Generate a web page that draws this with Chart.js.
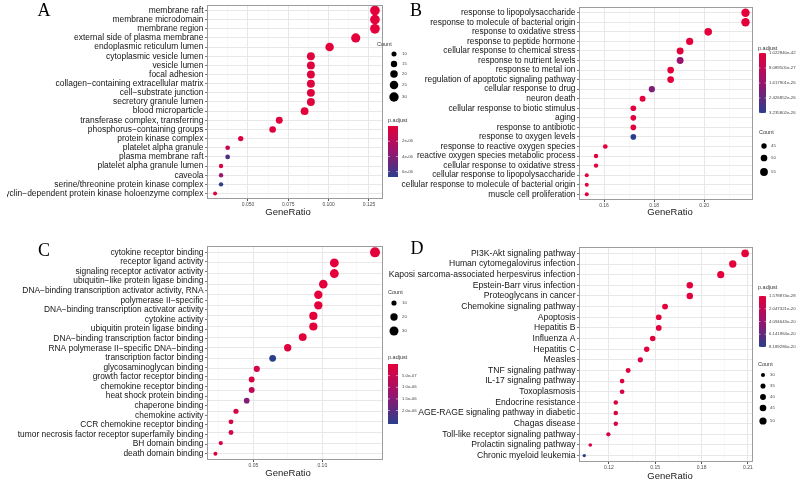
<!DOCTYPE html>
<html>
<head>
<meta charset="utf-8">
<script src="https://cdn.jsdelivr.net/npm/chart.js@4"></script>
<style>
  body { margin: 0; background: #fff; }
  .layer { position: absolute; left: 0; top: 0; }
</style>
</head>
<body>
<canvas id="panelA" class="layer" width="800" height="485"></canvas>
<canvas id="panelB" class="layer" width="800" height="485"></canvas>
<canvas id="panelC" class="layer" width="800" height="485"></canvas>
<canvas id="panelD" class="layer" width="800" height="485"></canvas>
<script>
// ---------- data ----------
// A: GO cellular component
const termsA = ['membrane raft', 'membrane microdomain', 'membrane region', 'external side of plasma membrane',
  'endoplasmic reticulum lumen', 'cytoplasmic vesicle lumen', 'vesicle lumen', 'focal adhesion',
  'collagen\u2212containing extracellular matrix', 'cell\u2212substrate junction', 'secretory granule lumen',
  'blood microparticle', 'transferase complex, transferring', 'phosphorus\u2212containing groups',
  'protein kinase complex', 'platelet alpha granule', 'plasma membrane raft', 'platelet alpha granule lumen',
  'caveola', 'serine/threonine protein kinase complex', 'cyclin\u2212dependent protein kinase holoenzyme complex'];
const ratioA = [0.1287, 0.1287, 0.1287, 0.1168, 0.1006, 0.0890, 0.0890, 0.0890, 0.0890, 0.0890, 0.0890,
  0.0851, 0.0694, 0.0653, 0.0455, 0.0374, 0.0374, 0.0333, 0.0333, 0.0333, 0.0296];
const countA = [32, 32, 32, 29, 25, 22, 22, 22, 22, 22, 22, 21, 17, 16, 11, 9, 9, 8, 8, 8, 7];
const padjA = [3.1e-10, 3.1e-10, 4.0e-10, 8.2e-10, 1.9e-8, 2.6e-7, 2.6e-7, 2.6e-7, 2.6e-7, 2.6e-7, 2.6e-7,
  1.0e-7, 2.5e-7, 2.5e-7, 3.0e-7, 1.4e-6, 5.6e-6, 5.0e-7, 3.0e-6, 6.7e-6, 3.5e-7];
const xMajorA = [0.050, 0.075, 0.100, 0.125];
const xMajorLabelsA = ['0.050', '0.075', '0.100', '0.125'];
const xMinorA = [0.0375, 0.0625, 0.0875, 0.1125];
const countBreaksA = [10, 15, 20, 25, 30];
const padjBreaksA = [2e-6, 4e-6, 6e-6];
const padjLabelsA = ['2e-06', '4e-06', '6e-06'];

// B: GO biological process
const termsB = ['response to lipopolysaccharide', 'response to molecule of bacterial origin',
  'response to oxidative stress', 'response to peptide hormone', 'cellular response to chemical stress',
  'response to nutrient levels', 'response to metal ion', 'regulation of apoptotic signaling pathway',
  'cellular response to drug', 'neuron death', 'cellular response to biotic stimulus', 'aging',
  'response to antibiotic', 'response to oxygen levels', 'response to reactive oxygen species',
  'reactive oxygen species metabolic process', 'cellular response to oxidative stress',
  'cellular response to lipopolysaccharide', 'cellular response to molecule of bacterial origin',
  'muscle cell proliferation'];
const ratioB = [0.2165, 0.2165, 0.2016, 0.1942, 0.1904, 0.1904, 0.1866, 0.1866, 0.1791, 0.1754,
  0.1717, 0.1717, 0.1717, 0.1717, 0.1605, 0.1568, 0.1568, 0.1531, 0.1531, 0.1531];
const countB = [58, 58, 54, 52, 51, 51, 50, 50, 48, 47, 46, 46, 46, 46, 43, 42, 42, 41, 41, 41];
const padjB = [1.022840e-42, 1.5e-42, 2.0e-38, 4.0e-33, 2.3e-31, 1.6e-26, 6.0e-32, 8.0e-31, 2.0e-26, 3.0e-28,
  5.0e-29, 1.0e-28, 2.0e-28, 3.235802e-26, 4.0e-29, 3.0e-28, 5.0e-28, 1.0e-29, 1.2e-29, 9.0e-29];
const xMajorB = [0.16, 0.18, 0.20];
const xMajorLabelsB = ['0.16', '0.18', '0.20'];
const xMinorB = [0.17, 0.19, 0.21];
const countBreaksB = [45, 50, 55];
const padjBreaksB = [1.022840e-42, 8.089505e-27, 1.617901e-26, 2.426852e-26, 3.235802e-26];
const padjLabelsB = ['1.022840e-42', '8.089505e-27', '1.617901e-26', '2.426852e-26', '3.235802e-26'];

// C: GO molecular function (22 printed label lines for 20 terms)
const labelsC = ['cytokine receptor binding', 'receptor ligand activity', 'signaling receptor activator activity',
  'ubiquitin\u2212like protein ligase binding', 'DNA\u2212binding transcription activator activity, RNA',
  'polymerase II\u2212specific', 'DNA\u2212binding transcription activator activity', 'cytokine activity',
  'ubiquitin protein ligase binding', 'DNA\u2212binding transcription factor binding',
  'RNA polymerase II\u2212specific DNA\u2212binding', 'transcription factor binding', 'glycosaminoglycan binding',
  'growth factor receptor binding', 'chemokine receptor binding', 'heat shock protein binding',
  'chaperone binding', 'chemokine activity', 'CCR chemokine receptor binding',
  'tumor necrosis factor receptor superfamily binding', 'BH domain binding', 'death domain binding'];
const ratioC = [0.1382, 0.1087, 0.1087, 0.1007, 0.0971, 0.0971, 0.0935, 0.0935, 0.0858, 0.0749,
  0.0640, 0.0525, 0.0488, 0.0488, 0.0452, 0.0374, 0.0338, 0.0338, 0.0264, 0.0225];
const countC = [37, 29, 29, 27, 26, 26, 25, 25, 23, 20, 17, 14, 13, 13, 12, 10, 9, 9, 7, 6];
const padjC = [4e-12, 2e-10, 2e-10, 6e-10, 1e-9, 1e-9, 3e-9, 2e-9, 2e-8, 5e-8,
  2.58e-6, 2.6e-7, 1.5e-7, 6.5e-7, 1.55e-6, 2.0e-7, 2.5e-7, 3.0e-7, 2.0e-7, 1.5e-7];
const xMajorC = [0.05, 0.10];
const xMajorLabelsC = ['0.05', '0.10'];
const xMinorC = [0.025, 0.075, 0.125];
const countBreaksC = [10, 20, 30];
const padjBreaksC = [5e-7, 1e-6, 1.5e-6, 2e-6];
const padjLabelsC = ['5.0e-07', '1.0e-06', '1.5e-06', '2.0e-06'];

// D: KEGG pathways
const termsD = ['PI3K-Akt signaling pathway', 'Human cytomegalovirus infection',
  'Kaposi sarcoma-associated herpesvirus infection', 'Epstein-Barr virus infection', 'Proteoglycans in cancer',
  'Chemokine signaling pathway', 'Apoptosis', 'Hepatitis B', 'Influenza A', 'Hepatitis C', 'Measles',
  'TNF signaling pathway', 'IL-17 signaling pathway', 'Toxoplasmosis', 'Endocrine resistance',
  'AGE-RAGE signaling pathway in diabetic', 'Chagas disease', 'Toll-like receptor signaling pathway',
  'Prolactin signaling pathway', 'Chronic myeloid leukemia'];
const ratioD = [0.2082, 0.2002, 0.1924, 0.1724, 0.1724, 0.1564, 0.1523, 0.1523, 0.1484, 0.1445,
  0.1404, 0.1325, 0.1286, 0.1286, 0.1245, 0.1245, 0.1245, 0.1197, 0.1080, 0.1041];
const countD = [53, 51, 49, 44, 44, 40, 39, 39, 38, 37, 36, 34, 33, 33, 32, 32, 32, 31, 28, 27];
const padjD = [1.578874e-28, 3.2e-26, 5.5e-26, 1.1e-24, 2.4e-24, 6.1e-23, 3.3e-22, 3.3e-22, 8.2e-22, 1.6e-21,
  3.1e-21, 2.5e-21, 4.8e-21, 4.9e-21, 5.2e-21, 5.3e-21, 5.4e-21, 6.3e-21, 7.6e-21, 8.189286e-20];
const xMajorD = [0.12, 0.15, 0.18, 0.21];
const xMajorLabelsD = ['0.12', '0.15', '0.18', '0.21'];
const xMinorD = [0.105, 0.135, 0.165, 0.195];
const countBreaksD = [30, 35, 40, 45, 50];
const padjBreaksD = [1.578874e-28, 2.047321e-20, 4.094643e-20, 6.141964e-20, 8.189286e-20];
const padjLabelsD = ['1.578874e-28', '2.047321e-20', '4.094643e-20', '6.141964e-20', '8.189286e-20'];

// ---------- helpers ----------
const FONT = '"Liberation Sans", Arial, sans-serif';
Chart.defaults.font.family = FONT;

const lowCol = [228, 0, 58], midCol = [152, 20, 110], highCol = [42, 62, 140];
function colorAt(t) {
  t = Math.max(0, Math.min(1, t));
  const a = t < 0.5 ? lowCol : midCol, b = t < 0.5 ? midCol : highCol;
  const u = t < 0.5 ? t * 2 : (t - 0.5) * 2;
  const c = a.map((v, i) => Math.round(v + (b[i] - v) * u));
  return `rgb(${c[0]}, ${c[1]}, ${c[2]})`;
}

function radiusFor(c, counts, rr) {
  const lo = Math.min(...counts), hi = Math.max(...counts);
  const t = (c - lo) / (hi - lo);
  return Math.sqrt(rr[0] * rr[0] + t * (rr[1] * rr[1] - rr[0] * rr[0]));
}

function isMajor(v, majors) {
  return majors.some(m => Math.abs(m - v) < 1e-9);
}

function drawDecor(chart, p) {
  const ctx = chart.ctx, a = chart.chartArea, L = p.layout;
  ctx.save();
  // panel border
  ctx.strokeStyle = '#9c9c9c';
  ctx.lineWidth = 1;
  ctx.strokeRect(a.left + 0.5, a.top + 0.5, a.right - a.left - 1, a.bottom - a.top - 1);

  // axis title
  ctx.fillStyle = '#1a1a1a';
  ctx.font = `9.5px ${FONT}`;
  ctx.textAlign = 'center';
  ctx.textBaseline = 'middle';
  ctx.fillText('GeneRatio', L.xTitle[0], L.xTitle[1]);

  // panel letter
  ctx.fillStyle = '#000';
  ctx.font = '18px "Liberation Serif", "Times New Roman", serif';
  ctx.fillText(L.letter[0], L.letter[1], L.letter[2]);

  // size legend
  const cl = L.countLegend;
  ctx.textAlign = 'left';
  ctx.fillStyle = '#333';
  ctx.font = `5.5px ${FONT}`;
  ctx.fillText('Count', cl.title[0], cl.title[1]);
  p.countBreaks.forEach((c, i) => {
    const r = radiusFor(c, p.count, L.radius);
    ctx.beginPath();
    ctx.arc(cl.x, cl.ys[i], r, 0, Math.PI * 2);
    ctx.fillStyle = '#000';
    ctx.fill();
    ctx.fillStyle = '#444';
    ctx.font = `4.3px ${FONT}`;
    ctx.fillText(String(c), cl.labelX, cl.ys[i]);
  });

  // colour bar legend
  const pl = L.padjLegend;
  const [bx, by, bw, bh] = pl.bar;
  const lo = Math.min(...p.padj), hi = Math.max(...p.padj);
  ctx.fillStyle = '#333';
  ctx.font = `5.5px ${FONT}`;
  ctx.fillText('p.adjust', pl.title[0], pl.title[1]);
  const g = ctx.createLinearGradient(0, by, 0, by + bh);
  for (let s = 0; s <= 20; s++) g.addColorStop(s / 20, colorAt(s / 20));
  ctx.fillStyle = g;
  ctx.fillRect(bx, by, bw, bh);
  p.padjBreaks.forEach((v, i) => {
    const y = by + (v - lo) / (hi - lo) * bh;
    ctx.strokeStyle = 'rgba(255,255,255,0.9)';
    ctx.lineWidth = 0.6;
    ctx.beginPath();
    ctx.moveTo(bx, y); ctx.lineTo(bx + bw * 0.2, y);
    ctx.moveTo(bx + bw * 0.8, y); ctx.lineTo(bx + bw, y);
    ctx.stroke();
    ctx.fillStyle = '#444';
    ctx.font = `4.3px ${FONT}`;
    ctx.fillText(p.padjLabels[i], pl.labelX, y);
  });
  ctx.restore();
}

function drawPanel(id, p) {
  const L = p.layout;
  const [bl, bt, br, bb] = L.box;
  const n = p.ratio.length, nl = p.labels.length;
  const k = (nl - 1) / (n - 1);
  const Y_W = 200, X_H = 9;
  const lo = Math.min(...p.padj), hi = Math.max(...p.padj);
  const allX = () => [...p.xMajor, ...p.xMinor].filter(v => v > L.xRange[0] && v < L.xRange[1])
    .sort((a, b) => a - b).map(v => ({ value: v }));

  new Chart(document.getElementById(id), {
    type: 'scatter',
    data: {
      datasets: [{
        data: p.ratio.map((x, i) => ({ x: x, y: i })),
        pointRadius: c => radiusFor(p.count[c.dataIndex], p.count, L.radius),
        pointBackgroundColor: c => colorAt((p.padj[c.dataIndex] - lo) / (hi - lo)),
        pointBorderWidth: 0,
        clip: false
      }]
    },
    options: {
      responsive: false,
      animation: false,
      events: [],
      layout: { padding: { left: bl - Y_W, top: bt, right: 800 - br, bottom: 485 - bb - X_H } },
      plugins: { legend: { display: false }, tooltip: { enabled: false } },
      scales: {
        x: {
          type: 'linear', min: L.xRange[0], max: L.xRange[1], bounds: 'data',
          afterBuildTicks: s => { s.ticks = allX(); },
          afterFit: s => { s.height = X_H; s.paddingLeft = 0; s.paddingRight = 0; },
          border: { display: false },
          grid: {
            color: c => isMajor(c.tick.value, p.xMajor) ? '#e8e8e8' : '#f4f4f4',
            lineWidth: c => isMajor(c.tick.value, p.xMajor) ? 1 : 0.6,
            tickColor: c => isMajor(c.tick.value, p.xMajor) ? '#555' : 'rgba(0,0,0,0)',
            tickLength: 2
          },
          ticks: {
            autoSkip: false, maxRotation: 0, padding: 1, color: '#4d4d4d',
            font: { size: 5, lineHeight: 1 },
            callback: v => {
              const i = p.xMajor.findIndex(m => Math.abs(m - v) < 1e-9);
              return i >= 0 ? p.xMajorLabels[i] : '';
            }
          }
        },
        y: {
          type: 'linear', reverse: true, min: -0.6, max: n - 1 + 0.6, bounds: 'data',
          afterBuildTicks: s => { s.ticks = p.ratio.map((_, i) => ({ value: i })); },
          afterFit: s => { s.width = 0; s.paddingTop = 0; s.paddingBottom = 0; },
          border: { display: false },
          grid: { color: '#e8e8e8', lineWidth: 1, drawTicks: false },
          ticks: { display: false }
        },
        yl: {
          type: 'linear', position: 'left', reverse: true,
          min: -0.6 * k, max: (n - 1 + 0.6) * k, bounds: 'data',
          afterBuildTicks: s => { s.ticks = p.labels.map((_, i) => ({ value: i })); },
          afterFit: s => { s.width = Y_W; s.paddingTop = 0; s.paddingBottom = 0; },
          border: { display: false },
          grid: { drawOnChartArea: false, color: '#555', lineWidth: 0.8, tickLength: 2 },
          ticks: {
            autoSkip: false, padding: 1.5, color: '#151515',
            font: { size: L.labelFont, lineHeight: 1 },
            callback: v => p.labels[Math.round(v)]
          }
        }
      }
    },
    plugins: [{ id: 'decor', afterDraw: chart => drawDecor(chart, p) }]
  });
}

// ---------- panels ----------
drawPanel('panelA', {
  labels: termsA, ratio: ratioA, count: countA, padj: padjA,
  xMajor: xMajorA, xMajorLabels: xMajorLabelsA, xMinor: xMinorA,
  countBreaks: countBreaksA, padjBreaks: padjBreaksA, padjLabels: padjLabelsA,
  layout: {
    box: [207, 5, 383, 199], xRange: [0.0246, 0.1337], labelFont: 8.45, radius: [2, 4.85],
    xTitle: [288, 212], letter: ['A', 44, 11],
    countLegend: { title: [377, 44], x: 394, ys: [54, 64, 74, 85, 97], labelX: 402 },
    padjLegend: { title: [388, 120], bar: [388, 126, 10, 51], labelX: 402 }
  }
});

drawPanel('panelB', {
  labels: termsB, ratio: ratioB, count: countB, padj: padjB,
  xMajor: xMajorB, xMajorLabels: xMajorLabelsB, xMinor: xMinorB,
  countBreaks: countBreaksB, padjBreaks: padjBreaksB, padjLabels: padjLabelsB,
  layout: {
    box: [579, 7, 753, 200], xRange: [0.150, 0.2195], labelFont: 8.35, radius: [2, 4.2],
    xTitle: [670, 212], letter: ['B', 416, 11],
    countLegend: { title: [759, 132], x: 764, ys: [146, 158, 172], labelX: 771 },
    padjLegend: { title: [758, 48], bar: [759, 53, 7, 60], labelX: 769 }
  }
});

drawPanel('panelC', {
  labels: labelsC, ratio: ratioC, count: countC, padj: padjC,
  xMajor: xMajorC, xMajorLabels: xMajorLabelsC, xMinor: xMinorC,
  countBreaks: countBreaksC, padjBreaks: padjBreaksC, padjLabels: padjLabelsC,
  layout: {
    box: [207, 246, 383, 460], xRange: [0.0164, 0.144], labelFont: 8.4, radius: [2, 5],
    xTitle: [288, 473], letter: ['C', 44, 251],
    countLegend: { title: [388, 292], x: 394, ys: [303, 317, 331], labelX: 402 },
    padjLegend: { title: [388, 357], bar: [388, 364, 10, 60], labelX: 402 }
  }
});

drawPanel('panelD', {
  labels: termsD, ratio: ratioD, count: countD, padj: padjD,
  xMajor: xMajorD, xMajorLabels: xMajorLabelsD, xMinor: xMinorD,
  countBreaks: countBreaksD, padjBreaks: padjBreaksD, padjLabels: padjLabelsD,
  layout: {
    box: [579, 247, 753, 462], xRange: [0.1007, 0.2133], labelFont: 8.6, radius: [1.7, 3.8],
    xTitle: [670, 476], letter: ['D', 417, 249],
    countLegend: { title: [758, 364], x: 763, ys: [375, 386, 397, 408, 421], labelX: 770 },
    padjLegend: { title: [758, 287], bar: [759, 296, 7, 51], labelX: 769 }
  }
});
</script>
</body>
</html>
